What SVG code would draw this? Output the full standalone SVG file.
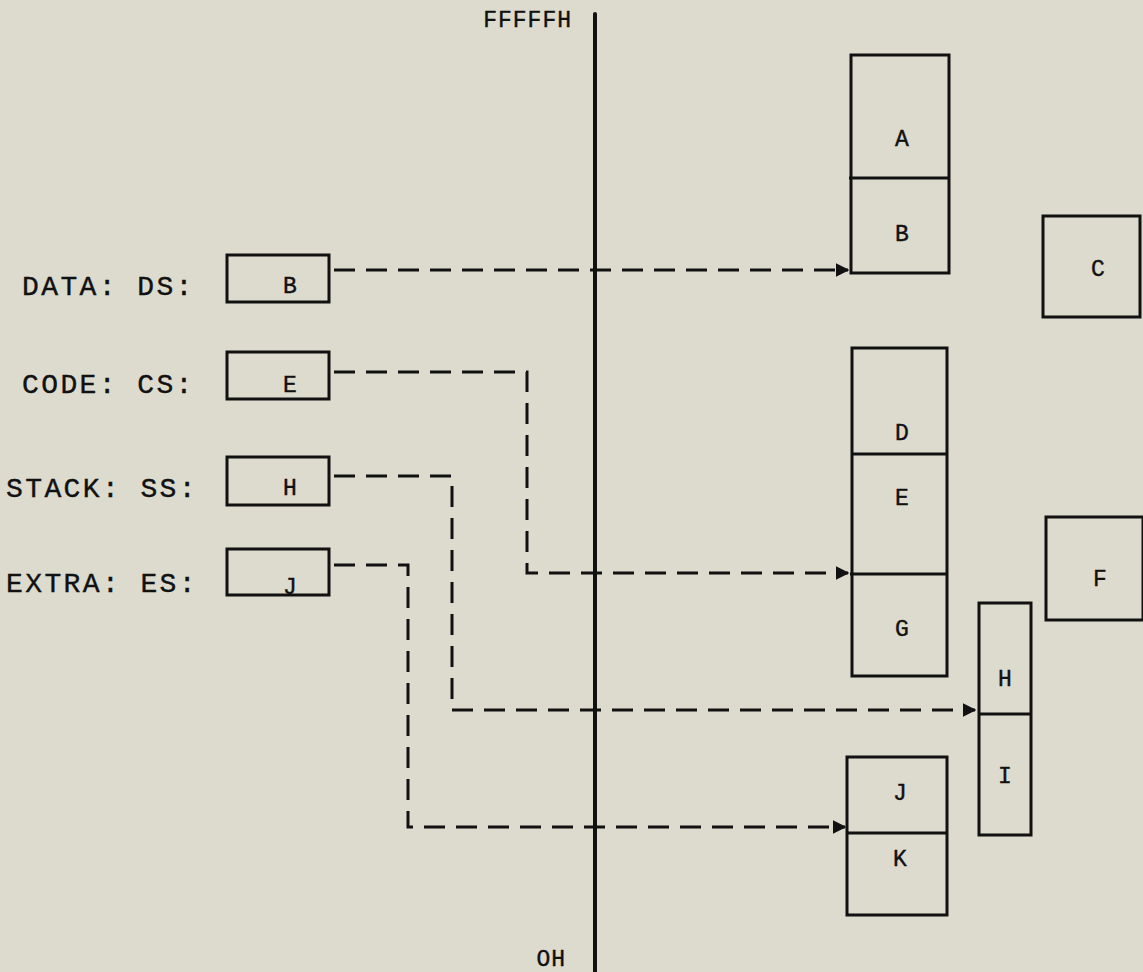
<svg xmlns="http://www.w3.org/2000/svg" width="1143" height="972" viewBox="0 0 1143 972">
<defs>
<style>
.bg{fill:#dcdbce}
.box{fill:none;stroke:#111;stroke-width:3;stroke-linejoin:miter}
.div{stroke:#111;stroke-width:3}
.axis{stroke:#111;stroke-width:4;stroke-linecap:round}
.lbl{font-family:"Liberation Mono","Courier New",monospace;font-size:28px;fill:#111;stroke:#111;stroke-width:0.4;letter-spacing:2.4px}
.ax{font-family:"Liberation Mono","Courier New",monospace;font-size:23px;fill:#111;stroke:#111;stroke-width:0.4;letter-spacing:1px;text-anchor:end}
.t{font-family:"Liberation Mono","Courier New",monospace;font-size:23px;fill:#111;stroke:#111;stroke-width:0.4;text-anchor:middle}
.dash{fill:none;stroke:#111;stroke-width:3;stroke-dasharray:21 11}
</style>
<marker id="arr" viewBox="0 0 10 10" refX="9" refY="5" markerWidth="4.5" markerHeight="4.5" orient="auto" markerUnits="strokeWidth">
<path d="M0,0 L10,5 L0,10 z" fill="#111"/>
</marker>
</defs>
<rect class="bg" x="0" y="0" width="1143" height="972"/>

<g id="axis">
<line class="axis" x1="595" y1="14" x2="595" y2="972"/>
<text class="ax" x="572" y="27">FFFFFH</text>
<text class="ax" x="566" y="966">OH</text>
</g>

<g id="reg-ds">
<text class="lbl" x="22" y="295">DATA: DS:</text>
<rect class="box" x="227" y="255" width="102" height="47"/>
<text class="t" x="290" y="293">B</text>
</g>
<g id="reg-cs">
<text class="lbl" x="22" y="393">CODE: CS:</text>
<rect class="box" x="227" y="352" width="102" height="47"/>
<text class="t" x="290" y="392">E</text>
</g>
<g id="reg-ss">
<text class="lbl" x="6" y="497">STACK: SS:</text>
<rect class="box" x="227" y="457" width="102" height="48"/>
<text class="t" x="290" y="495">H</text>
</g>
<g id="reg-es">
<text class="lbl" x="6" y="592">EXTRA: ES:</text>
<text class="t" x="290" y="594">J</text>
<rect class="box" x="227" y="549" width="102" height="46"/>
</g>

<g id="seg-ab">
<rect class="box" x="851" y="55" width="98" height="218"/>
<line class="div" x1="849" y1="178" x2="949" y2="178"/>
<text class="t" x="902" y="146">A</text>
<text class="t" x="902" y="241">B</text>
</g>
<g id="seg-c">
<rect class="box" x="1043" y="216" width="97" height="101"/>
<text class="t" x="1098" y="276">C</text>
</g>
<g id="seg-deg">
<rect class="box" x="852" y="348" width="95" height="328"/>
<line class="div" x1="852" y1="454" x2="947" y2="454"/>
<line class="div" x1="850" y1="574" x2="947" y2="574"/>
<text class="t" x="902" y="440">D</text>
<text class="t" x="902" y="505">E</text>
<text class="t" x="902" y="636">G</text>
</g>
<g id="seg-f">
<rect class="box" x="1046" y="517" width="97" height="103"/>
<text class="t" x="1100" y="586">F</text>
</g>
<g id="seg-hi">
<rect class="box" x="979" y="603" width="52" height="232"/>
<line class="div" x1="979" y1="714" x2="1031" y2="714"/>
<text class="t" x="1005" y="686">H</text>
<text class="t" x="1005" y="783">I</text>
</g>
<g id="seg-jk">
<rect class="box" x="847" y="757" width="100" height="158"/>
<line class="div" x1="847" y1="833" x2="947" y2="833"/>
<text class="t" x="900" y="800">J</text>
<text class="t" x="900" y="866">K</text>
</g>

<g id="connectors">
<path class="dash" d="M334,270 H848" marker-end="url(#arr)"/>
<path class="dash" d="M334,372 H527 V573 H848" marker-end="url(#arr)"/>
<path class="dash" d="M334,476 H452 V710 H975" marker-end="url(#arr)"/>
<path class="dash" d="M334,565 H408 V827 H845" marker-end="url(#arr)"/>
</g>
</svg>
